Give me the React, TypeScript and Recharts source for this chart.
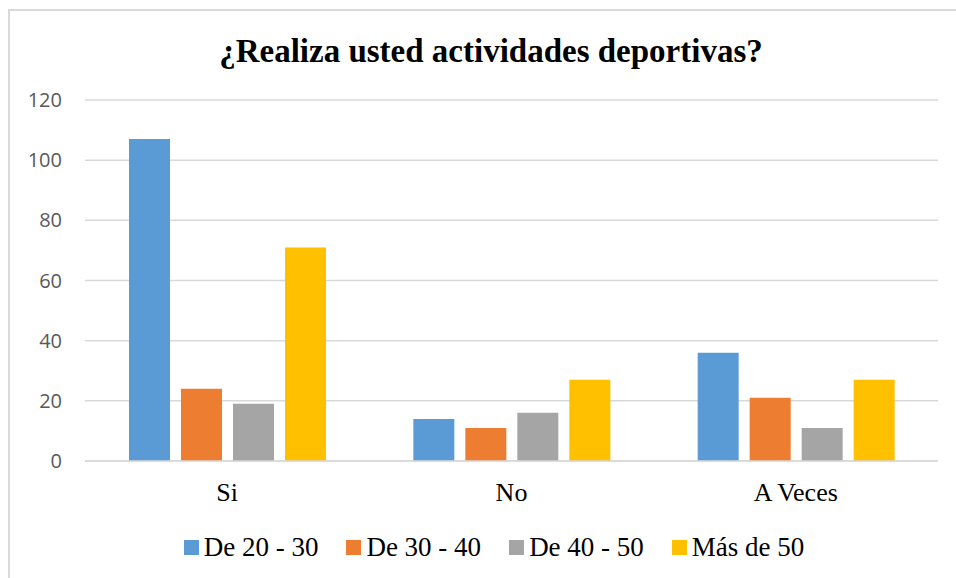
import React from "react";
import { BarChart, Bar, XAxis, YAxis, CartesianGrid, Legend } from "recharts";

const categories = ["Si", "No", "A Veces"];
const seriesNames = ["De 20 - 30", "De 30 - 40", "De 40 - 50", "Más de 50"];
const de20a30 = [107, 14, 36];
const de30a40 = [24, 11, 21];
const de40a50 = [19, 16, 11];
const masDe50 = [71, 27, 27];
const yTicks = [0, 20, 40, 60, 80, 100, 120];
const colors = ["#5B9BD5", "#ED7D31", "#A5A5A5", "#FFC000"];
const title = "¿Realiza usted actividades deportivas?";

const data = categories.map((c, i) => ({
  name: c,
  s0: de20a30[i],
  s1: de30a40[i],
  s2: de40a50[i],
  s3: masDe50[i],
}));

const serif = '"Liberation Serif", "Times New Roman", serif';
const sans = '"Open Sans", "Liberation Sans", sans-serif';

const renderLegend = (props: any) => {
  const payload = props.payload || [];
  return (
    <div
      style={{
        display: "flex",
        justifyContent: "center",
        alignItems: "center",
        height: 32,
        fontFamily: serif,
        fontSize: 27,
        color: "#000",
      }}
    >
      {payload.map((entry: any, i: number) => (
        <div
          key={i}
          style={{ display: "flex", alignItems: "center", marginRight: i < payload.length - 1 ? 28 : 0 }}
        >
          <span style={{ display: "inline-block", width: 15, height: 15, background: entry.color, marginRight: 5 }} />
          <span style={{ fontFamily: serif, fontSize: 27, lineHeight: "32px" }}>{entry.value}</span>
        </div>
      ))}
    </div>
  );
};

export default function App() {
  return (
    <div style={{ position: "absolute", left: 0, top: 0, width: 956, height: 578, background: "#fff", overflow: "hidden" }}>
      <div
        style={{
          position: "absolute",
          left: 8,
          top: 9,
          width: 960,
          height: 580,
          borderLeft: "2px solid #d9d9d9",
          borderTop: "2px solid #d9d9d9",
        }}
      />
      <div
        style={{
          position: "absolute",
          left: 0,
          width: 982,
          top: 31,
          textAlign: "center",
          fontFamily: serif,
          fontWeight: "bold",
          fontSize: 33,
          color: "#000",
          lineHeight: "40px",
        }}
      >
        {title}
      </div>
      <div style={{ position: "absolute", left: 0, top: 0 }}>
        <BarChart
          width={956}
          height={578}
          data={data}
          margin={{ top: 100, right: 18, left: 0, bottom: 35 }}
          barCategoryGap={44}
          barGap={11}
        >
          <CartesianGrid vertical={false} stroke="#d9d9d9" strokeWidth={1.5} />
          <XAxis
            dataKey="name"
            axisLine={{ stroke: "#d9d9d9", strokeWidth: 1.5 }}
            tickLine={false}
            tickSize={0}
            tickMargin={22}
            height={50}
            tick={{ fill: "#000", fontSize: 26, fontFamily: serif }}
          />
          <YAxis
            width={85}
            domain={[0, 120]}
            ticks={yTicks}
            axisLine={false}
            tickLine={false}
            tickSize={0}
            tickMargin={23}
            tick={{ fill: "#595959", fontSize: 20, fontFamily: sans }}
          />
          <Legend
            verticalAlign="bottom"
            content={renderLegend}
            wrapperStyle={{ bottom: 15, left: 25, width: 938 }}
          />
          {["s0", "s1", "s2", "s3"].map((k, i) => (
            <Bar key={k} dataKey={k} name={seriesNames[i]} fill={colors[i]} isAnimationActive={false} />
          ))}
        </BarChart>
      </div>
    </div>
  );
}
